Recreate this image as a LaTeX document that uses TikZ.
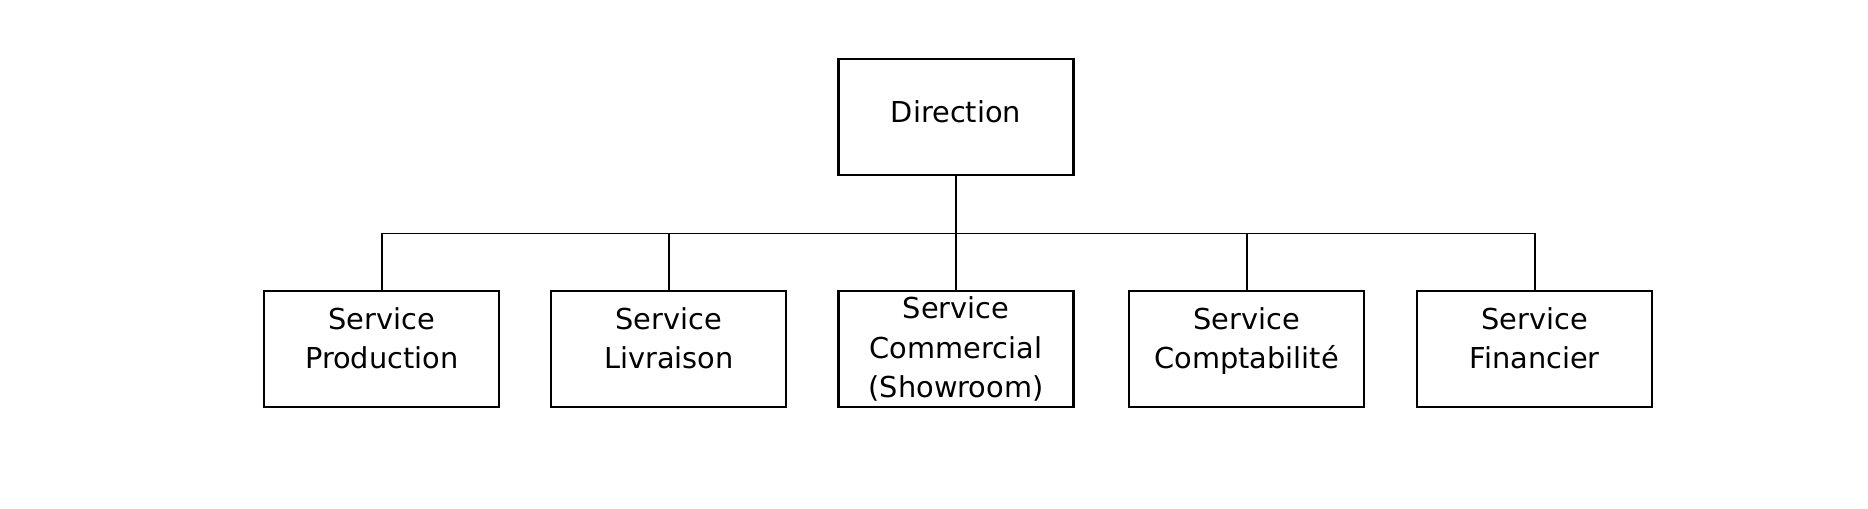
\documentclass[tikz,border=0pt]{standalone}
\usepackage{fontspec}
\setsansfont{DejaVu Sans}
\usetikzlibrary{positioning}
\tikzset{
  servbox/.style={draw, line width=1.2pt, minimum width=4.7cm, minimum height=2.32cm,
    inner ysep=1pt, align=center, font=\sffamily\fontsize{16.4}{22.4}\selectfont},
  lifted/.style={text depth=#1},
  link/.style={line width=1pt}
}
\begin{document}
\begin{tikzpicture}
\useasboundingbox (0,0) rectangle (37.36,-10.16);
\node[servbox, minimum height=2.32cm, lifted=0.2cm] (dir) at (19.12,-2.34) {Direction};
\node[servbox, below=2.28cm of dir] (com) {Service\\Commercial\\(Showroom)};
\node[servbox, lifted=0.45cm, left=1.0cm of com] (liv) {Service\\Livraison};
\node[servbox, lifted=0.45cm, left=1.0cm of liv] (prod) {Service\\Production};
\node[servbox, lifted=0.45cm, right=1.07cm of com] (cpt) {Service\\Comptabilité};
\node[servbox, lifted=0.45cm, right=1.02cm of cpt] (fin) {Service\\Financier};
\coordinate (bar) at (19.12,-4.67);
\draw[link] (dir.south) -- (dir.south |- bar);
\draw[link] (prod.north) -- (prod.north |- bar) -- (fin.north |- bar) -- (fin.north);
\foreach \s in {liv,com,cpt}
  \draw[link] (\s.north) -- (\s.north |- bar);
\end{tikzpicture}
\end{document}
